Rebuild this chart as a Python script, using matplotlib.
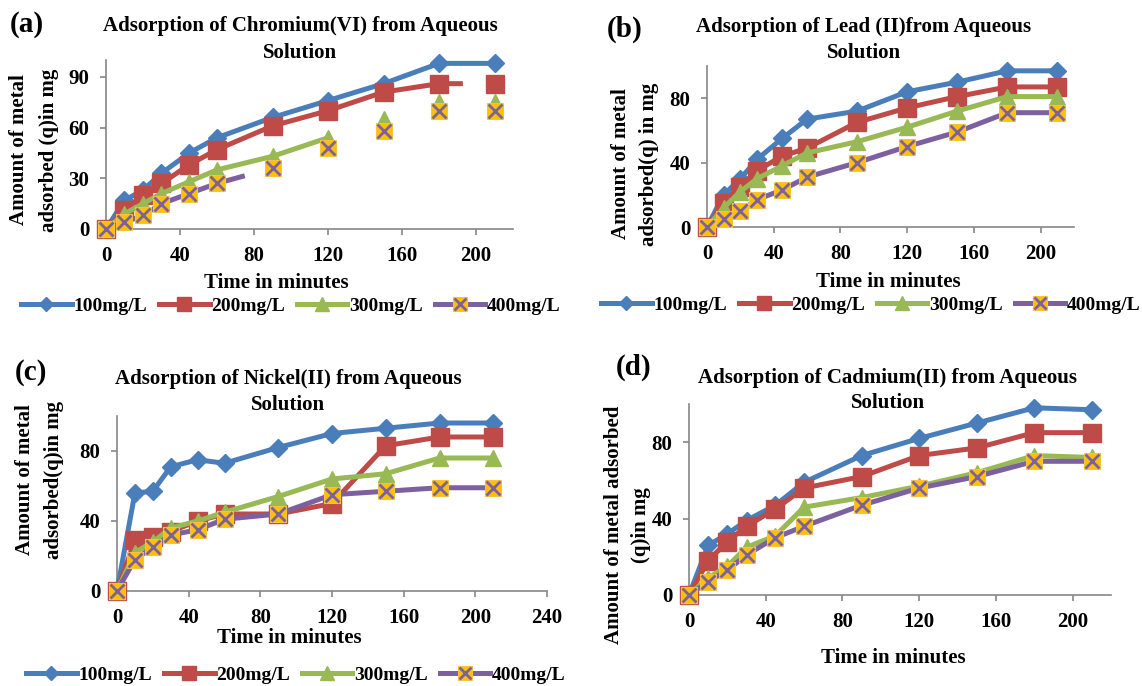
import numpy as np
import matplotlib
matplotlib.use('Agg')
import matplotlib.pyplot as plt
from matplotlib.lines import Line2D
from matplotlib.legend_handler import HandlerTuple

# ---------------- data ----------------
time = [0, 10, 20, 30, 45, 60, 90, 120, 150, 180, 210]
series_labels = ['100mg/L', '200mg/L', '300mg/L', '400mg/L']

cr_100 = [0, 17, 23, 33, 45, 54, 66, 76, 86, 98, 98]
cr_200 = [0, 11, 20, 27, 38, 47, 61, 70, 81, 86, 86]
cr_300 = [0, 9, 15, 21, 28, 35, 43, 54, 65, 75, 75]
cr_400 = [0, 4, 8, 15, 21, 27, 36, 48, 58, 70, 70]

pb_100 = [0, 20, 30, 42, 55, 67, 72, 84, 90, 97, 97]
pb_200 = [0, 15, 25, 35, 44, 49, 65, 74, 81, 87, 87]
pb_300 = [0, 12, 22, 30, 38, 46, 53, 62, 72, 81, 81]
pb_400 = [0, 5, 10, 17, 23, 31, 40, 50, 59, 71, 71]

ni_100 = [0, 56, 57, 71, 75, 73, 82, 90, 93, 96, 96]
ni_200 = [0, 29, 31, 34, 40, 44, 44, 50, 83, 88, 88]
ni_300 = [0, 22, 28, 36, 40, 45, 54, 64, 67, 76, 76]
ni_400 = [0, 18, 25, 32, 35, 41, 44, 55, 57, 59, 59]

cd_100 = [0, 26, 32, 39, 47, 59, 73, 82, 90, 98, 97]
cd_200 = [0, 18, 28, 36, 45, 56, 62, 73, 77, 85, 85]
cd_300 = [0, 9, 15, 25, 31, 46, 51, 57, 64, 73, 72]
cd_400 = [0, 7, 13, 21, 30, 36, 47, 56, 62, 70, 70]

# how far each connecting line is drawn in panel (a): (last full index, fraction of next segment)
cr_line_extent = [(10, 0.0), (9, 0.43), (7, 0.0), (5, 0.5)]
full_extent = [(10, 0.0)] * 4

# ---------------- style ----------------
W, H = 1142, 686
plt.rcParams['font.family'] = ['Liberation Serif', 'DejaVu Serif']
plt.rcParams['font.weight'] = 'bold'

colors = ['#4A7EBB', '#BE4B48', '#98B954', '#7D60A0']
gold = '#FFC000'
LW = 3.6
GRAY = '#868686'
TICK_FS = 15
LAB_FS = 15
TITLE_FS = 15


def fx(x):
    return x / W


def fy(y):
    return 1 - y / H


def draw_series(ax, data, extent):
    t = np.array(time, dtype=float)
    for k, (vals, (last, frac)) in enumerate(zip(data, extent)):
        v = np.array(vals, dtype=float)
        xs = list(t[:last + 1])
        ys = list(v[:last + 1])
        if frac > 0 and last + 1 < len(t):
            xs.append(t[last] + frac * (t[last + 1] - t[last]))
            ys.append(v[last] + frac * (v[last + 1] - v[last]))
        z = 3 + k * 2
        ax.plot(xs, ys, color=colors[k], lw=LW, zorder=z, clip_on=False,
                solid_joinstyle='round', solid_capstyle='butt')
        if k == 0:
            ax.plot(t, v, ls='none', marker='D', ms=9.5, color=colors[0],
                    zorder=z + 1, clip_on=False)
        elif k == 1:
            ax.plot(t, v, ls='none', marker='s', ms=12.5, color=colors[1],
                    zorder=z + 1, clip_on=False)
        elif k == 2:
            ax.plot(t, v, ls='none', marker='^', ms=11, color=colors[2],
                    zorder=z + 1, clip_on=False)
        else:
            ax.plot(t, v, ls='none', marker='s', ms=12, mfc=gold,
                    mec='#F5C242', mew=0.8, zorder=z + 1, clip_on=False)
            ax.plot(t, v, ls='none', marker='x', ms=10, mec=colors[3],
                    mew=2.0, zorder=z + 1.5, clip_on=False)


def style_axes(ax, xmax, xticks, yticks):
    ax.set_xlim(0, xmax)
    ax.set_ylim(0, 100)
    ax.set_xticks(xticks)
    ax.set_yticks(yticks)
    for s in ['top', 'right']:
        ax.spines[s].set_visible(False)
    for s in ['left', 'bottom']:
        ax.spines[s].set_color(GRAY)
        ax.spines[s].set_linewidth(1.2)
    ax.tick_params(direction='out', length=4, width=1.2, color=GRAY,
                   labelsize=TICK_FS, pad=8)
    for lab in ax.get_xticklabels() + ax.get_yticklabels():
        lab.set_fontweight('bold')
    ax.set_facecolor('none')


def legend_handles():
    hs = [Line2D([], [], color=colors[0], lw=LW, marker='D', ms=7.5),
          Line2D([], [], color=colors[1], lw=LW, marker='s', ms=10.5),
          Line2D([], [], color=colors[2], lw=LW, marker='^', ms=9.5),
          (Line2D([], [], color=colors[3], lw=LW, marker='s', ms=10,
                  mfc=gold, mec='#F5C242', mew=0.8),
           Line2D([], [], ls='none', marker='x', ms=8.5, mec=colors[3], mew=2.0))]
    return hs


fig = plt.figure(figsize=(W / 100, H / 100), dpi=100)

panels = [
    dict(rect=(106, 229, 407, 169), data=[cr_100, cr_200, cr_300, cr_400],
         extent=cr_line_extent, xmax=220, xticks=range(0, 201, 40), yticks=[0, 30, 60, 90],
         tag='(a)', tag_xy=(27, 25),
         title=('Adsorption of Chromium(VI) from Aqueous', 'Solution'), title_x=300, title_y=(26, 53),
         ylab=('Amount of metal', 'adsorbed (q)in mg'), ylab_x=(19, 49), ylab_y=150,
         xlab_xy=(276, 283), legend_xy=(291, 306)),
    dict(rect=(707, 227, 367, 161), data=[pb_100, pb_200, pb_300, pb_400],
         extent=full_extent, xmax=220, xticks=range(0, 201, 40), yticks=[0, 40, 80],
         tag='(b)', tag_xy=(625, 29),
         title=('Adsorption of Lead (II)from Aqueous', 'Solution'), title_x=864, title_y=(27, 53),
         ylab=('Amount of metal', 'adsorbed(q) in mg'), ylab_x=(621, 649), ylab_y=164,
         xlab_xy=(888, 282), legend_xy=(871, 305)),
    dict(rect=(117, 591, 430, 175), data=[ni_100, ni_200, ni_300, ni_400],
         extent=full_extent, xmax=240, xticks=range(0, 241, 40), yticks=[0, 40, 80],
         tag='(c)', tag_xy=(31, 372),
         title=('Adsorption of Nickel(II) from Aqueous', 'Solution'), title_x=288, title_y=(379, 405),
         ylab=('Amount of metal', 'adsorbed(q)in mg'), ylab_x=(25, 54), ylab_y=480,
         xlab_xy=(289, 638), legend_xy=(296, 675)),
    dict(rect=(689, 595, 422, 191), data=[cd_100, cd_200, cd_300, cd_400],
         extent=full_extent, xmax=220, xticks=range(0, 201, 40), yticks=[0, 40, 80],
         tag='(d)', tag_xy=(634, 367),
         title=('Adsorption of Cadmium(II) from Aqueous', 'Solution'), title_x=888, title_y=(378, 403),
         ylab=('Amount of metal adsorbed', '(q)in mg'), ylab_x=(614, 641), ylab_y=525,
         xlab_xy=(893, 658), legend_xy=None),
]

for p in panels:
    left, bottom_y, w, h = p['rect']
    ax = fig.add_axes([fx(left), fy(bottom_y), w / W, h / H])
    draw_series(ax, p['data'], p['extent'])
    style_axes(ax, p['xmax'], list(p['xticks']), p['yticks'])

    fig.text(fx(p['tag_xy'][0]), fy(p['tag_xy'][1]), p['tag'], fontsize=21,
             fontweight='bold', ha='center', va='center')
    for line, yy in zip(p['title'], p['title_y']):
        fig.text(fx(p['title_x']), fy(yy), line, fontsize=TITLE_FS,
                 fontweight='bold', ha='center', va='center')
    for line, xx in zip(p['ylab'], p['ylab_x']):
        fig.text(fx(xx), fy(p['ylab_y']), line, fontsize=LAB_FS,
                 fontweight='bold', ha='center', va='center', rotation=90)
    fig.text(fx(p['xlab_xy'][0]), fy(p['xlab_xy'][1]), 'Time in minutes',
             fontsize=LAB_FS, fontweight='bold', ha='center', va='center')

    if p['legend_xy'] is not None:
        fig.legend(legend_handles(), series_labels, loc='center',
                   bbox_to_anchor=(fx(p['legend_xy'][0]), fy(p['legend_xy'][1])),
                   ncol=4, frameon=False, numpoints=1, handlelength=2.6,
                   handletextpad=0.1, columnspacing=0.6, borderpad=0, borderaxespad=0,
                   prop={'size': 14, 'weight': 'bold'},
                   handler_map={tuple: HandlerTuple(ndivide=1)})

fig.savefig('out.png', dpi=100)
